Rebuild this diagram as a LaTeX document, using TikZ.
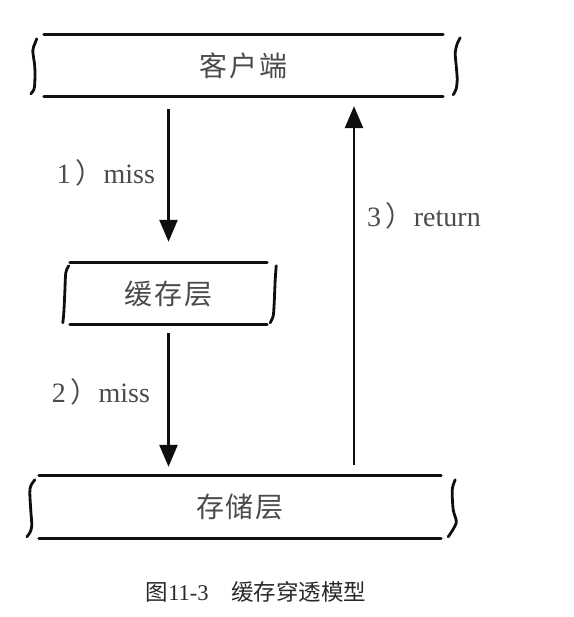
\documentclass[tikz,border=0pt]{standalone}
\usepackage{fontspec}
\setmainfont{Liberation Serif}
\newfontfamily\cjk{Noto Sans CJK SC}
\usepackage{tikz}
\usetikzlibrary{arrows.meta,positioning,calc}
\definecolor{ink}{RGB}{15,15,15}
\definecolor{pencil}{RGB}{75,75,75}
\definecolor{captiongray}{RGB}{40,40,40}
\tikzset{
  layer/.style={draw=none, inner sep=0pt, text=pencil,
    font=\cjk\fontsize{28}{32}\selectfont},
  frame/.style={draw=ink, line width=3pt, line cap=round},
  sidemark/.style={draw=ink, line width=2.8pt, line cap=round},
  flow/.style={draw=ink, line width=2.6pt, -{Triangle[length=22pt,width=18pt]}},
  steplabel/.style={text=pencil, inner sep=0pt, font=\fontsize{28}{32}\selectfont},
  caption/.style={text=captiongray, inner sep=0pt, font=\fontsize{22.5}{26}\selectfont}
}
% label "n）word"
\newcommand{\steptext}[2]{#1\,{\cjk ）}#2}
% top and bottom rules of a layer
\newcommand{\layerframe}[1]{%
  \draw[frame] (#1.north west) -- (#1.north east);
  \draw[frame] (#1.south west) -- (#1.south east);}
% hand drawn side stroke, coordinates relative to an anchor
\newcommand{\sidemark}[2]{%
  \draw[sidemark, shift={(#1)}] plot[smooth] coordinates {#2};}

\begin{document}
\begin{tikzpicture}[x=1pt, y=-1pt]
\useasboundingbox (0,0) rectangle (573,617);

% layers
\node[layer, minimum width=399pt, minimum height=61pt] (client) at (243.5,65.5) {客\hspace{2pt}户\hspace{2pt}端};
\node[layer, minimum width=197pt, minimum height=61pt] (cache) at (168.5,293.5) {缓\hspace{2pt}存\hspace{2pt}层};
\node[layer, minimum width=402pt, minimum height=62pt] (storage) at (240,507) {存\hspace{2pt}储\hspace{2pt}层};

\layerframe{client}
\layerframe{cache}
\layerframe{storage}

\sidemark{client.north west}{(-7,4) (-9,9) (-11,16) (-9,32) (-9,48) (-10,55) (-13,59)}
\sidemark{client.north east}{(17,3) (14,9) (12,18) (13,31) (14,44) (13,54) (10,60)}
\sidemark{cache.north west}{(-1,3) (-4,10) (-5,30) (-6,50) (-7,60)}
\sidemark{cache.north east}{(9,3) (8,17) (7,40) (6,53) (3,60)}
\sidemark{storage.north west}{(-4,4) (-8,10) (-9,17) (-8,35) (-7,50) (-9,57) (-12,61)}
\sidemark{storage.north east}{(14,4) (11,14) (12,34) (15,47) (7,61)}

% arrows
\draw[flow, shorten <=13pt, shorten >=21pt] (cache.north |- client.south) -- (cache.north);
\draw[flow, shorten <=9pt, shorten >=9pt] (cache.south) -- (cache.south |- storage.north);
\draw[flow, shorten <=11pt, shorten >=10pt] ([xshift=114pt]storage.north) -- ([xshift=114pt]storage.north |- client.south);

% labels
\node[steplabel] (miss1) at (106,173) {\steptext{1}{miss}};
\node[steplabel] (miss2) at (101,392) {\steptext{2}{miss}};
\node[steplabel] (return3) at (424,216) {\steptext{3}{return}};

\node[caption] (fig) at (256,592) {{\cjk 图}11-3\quad{\cjk 缓存穿透模型}};
\end{tikzpicture}
\end{document}
